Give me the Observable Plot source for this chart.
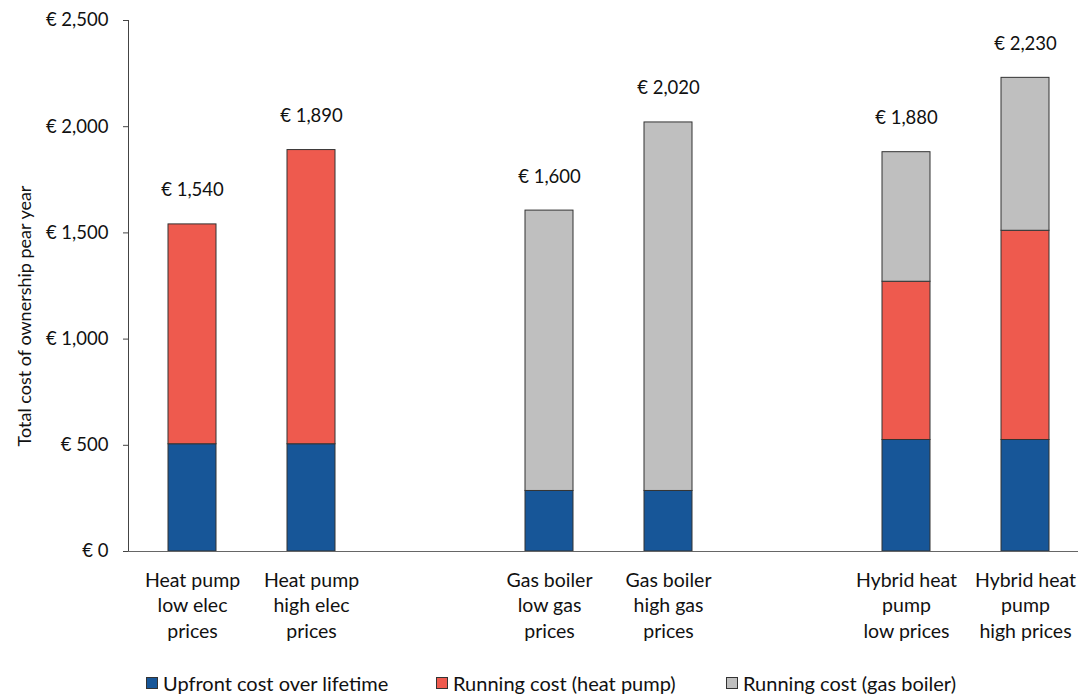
<!DOCTYPE html>
<html>
<head>
<meta charset="utf-8">
<script src="https://cdn.jsdelivr.net/npm/d3@7"></script>
<script src="https://cdn.jsdelivr.net/npm/@observablehq/plot@0.6"></script>
<style>
  html, body { margin: 0; padding: 0; background: #fff; overflow: hidden; }
  body { font-family: Lato, "Noto Sans", sans-serif; color: #111; }
  #legend { display: flex; padding-left: 146px; margin-top: 12px; font-size: 20px; line-height: 22px; align-items: center; }
  #legend .item { display: flex; align-items: center; gap: 5px; width: 290px; }
  #legend .sw { width: 12px; height: 12px; border: 1px solid #333; box-sizing: border-box; display: inline-block; }
</style>
</head>
<body>
<div id="chart"></div>
<div id="legend"></div>
<script>
const categories = [
  "Heat pump\nlow elec\nprices",
  "Heat pump\nhigh elec\nprices",
  "Gas boiler\nlow gas\nprices",
  "Gas boiler\nhigh gas\nprices",
  "Hybrid heat\npump\nlow prices",
  "Hybrid heat\npump\nhigh prices"
];
// slot order on the x axis, including two empty spacer slots
const slotOrder = [categories[0], categories[1], " ", categories[2], categories[3], "  ", categories[4], categories[5]];
const seriesNames = ["Upfront cost over lifetime", "Running cost (heat pump)", "Running cost (gas boiler)"];
const seriesColors = ["#175698", "#ee5a4e", "#bfbfbf"];
const upfront = [505, 505, 285, 285, 525, 525];
const runningHeatPump = [1035, 1385, 0, 0, 745, 985];
const runningGasBoiler = [0, 0, 1320, 1735, 610, 720];
const totalLabels = [1540, 1890, 1600, 2020, 1880, 2230];
const yTicks = [0, 500, 1000, 1500, 2000, 2500];
const yTitle = "Total cost of ownership pear year";

const seriesValues = [upfront, runningHeatPump, runningGasBoiler];
const rows = [];
categories.forEach((c, i) => {
  seriesNames.forEach((s, j) => {
    if (seriesValues[j][i] > 0) rows.push({cat: c, series: s, value: seriesValues[j][i]});
  });
});
const totals = categories.map((c, i) => ({
  cat: c,
  top: upfront[i] + runningHeatPump[i] + runningGasBoiler[i],
  label: totalLabels[i]
}));
const euro = d => "€ " + d3.format(",")(d);

const chart = Plot.plot({
  width: 1078,
  height: 660,
  marginTop: 20,
  marginBottom: 109,
  marginLeft: 128,
  marginRight: 0,
  style: {fontFamily: "Lato, 'Noto Sans', sans-serif", fontSize: "18px", color: "#111", background: "#fff"},
  x: {domain: slotOrder, range: [129, 1087], paddingInner: 0.6, paddingOuter: 0.3, label: null},
  y: {domain: [0, 2500], label: null},
  color: {domain: seriesNames, range: seriesColors},
  marks: [
    Plot.axisY({ticks: yTicks, tickFormat: euro, tickSize: 5, tickPadding: 15, fontSize: 18.5, stroke: "#444", label: null}),
    Plot.text([yTitle], {frameAnchor: "left", textAnchor: "middle", rotate: -90, dx: -103, dy: 30, fontSize: 18, fill: "#111"}),
    Plot.axisX({tickSize: 0, tickPadding: 17, lineHeight: 1.31, fontSize: 19.5, tickFormat: d => d.trim(), label: null}),
    Plot.barY(rows, Plot.stackY({order: seriesNames}, {x: "cat", y: "value", fill: "series", stroke: "#333", strokeWidth: 1})),
    Plot.text(totals, {x: "cat", y: "top", text: d => euro(d.label), dy: -34, fontSize: 18.5}),
    Plot.frame({anchor: "left", stroke: "#444"}),
    Plot.ruleY([0], {stroke: "#666", strokeWidth: 1.2})
  ]
});
document.getElementById("chart").appendChild(chart);

const legend = document.getElementById("legend");
seriesNames.forEach((s, i) => {
  const item = document.createElement("div");
  item.className = "item";
  const sw = document.createElement("span");
  sw.className = "sw";
  sw.style.background = seriesColors[i];
  const t = document.createElement("span");
  t.textContent = s;
  item.appendChild(sw);
  item.appendChild(t);
  legend.appendChild(item);
});
</script>
</body>
</html>
